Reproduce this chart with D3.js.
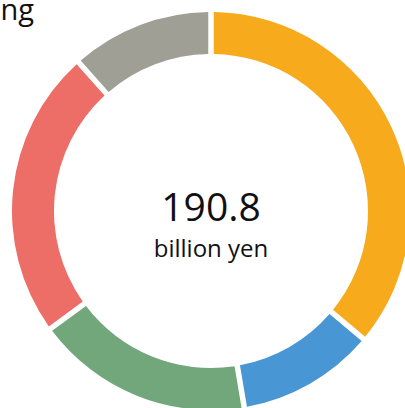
<html>
<head>
    <style>
        body { margin: 0; background: #fff; font-family: "Open Sans", "Noto Sans", sans-serif; }
    </style>
</head>
<body>
<script src="https://d3js.org/d3.v7.min.js"></script>
<script>
var width = 405;
var height = 408;

// data (billion yen), clockwise from 12 o'clock
var categories = ['A', 'B', 'C', 'D', 'E'];
var values = [68.9, 21.4, 33.6, 44.8, 22.1];
var colors = ['#F6AA1C', '#4896D3', '#72A67B', '#ED6D67', '#A09F95'];
var totalLabel = '190.8';
var unitLabel = 'billion yen';
var titleText = 'Funding';

var cx = 211, cy = 211;
var outerR = 199, innerR = 157;

var svg = d3.select('body')
    .append('svg')
    .attr('width', width)
    .attr('height', height);

// partial title at top left (cut off by the frame, as in the original)
svg.append('text')
    .attr('x', 34)
    .attr('y', 20)
    .attr('text-anchor', 'end')
    .style('font-size', '29px')
    .attr('fill', '#111')
    .text(titleText);

var g = svg.append('g')
    .attr('transform', 'translate(' + cx + ',' + cy + ')');

var pie = d3.pie()
    .sort(null)
    .value(function(d) { return d; });

var arc = d3.arc()
    .innerRadius(innerR)
    .outerRadius(outerR)
    .padRadius(100)
    .padAngle(0.055);

g.selectAll('.slice')
    .data(pie(values))
    .enter()
    .append('path')
    .attr('class', 'slice')
    .attr('d', arc)
    .attr('fill', function(d, i) { return colors[i]; });

// centre labels
g.append('text')
    .attr('x', 0)
    .attr('y', 10)
    .attr('text-anchor', 'middle')
    .style('font-size', '39px')
    .attr('fill', '#111')
    .text(totalLabel);

g.append('text')
    .attr('x', 0)
    .attr('y', 46)
    .attr('text-anchor', 'middle')
    .style('font-size', '24px')
    .attr('fill', '#111')
    .text(unitLabel);
</script>
</body>
</html>
